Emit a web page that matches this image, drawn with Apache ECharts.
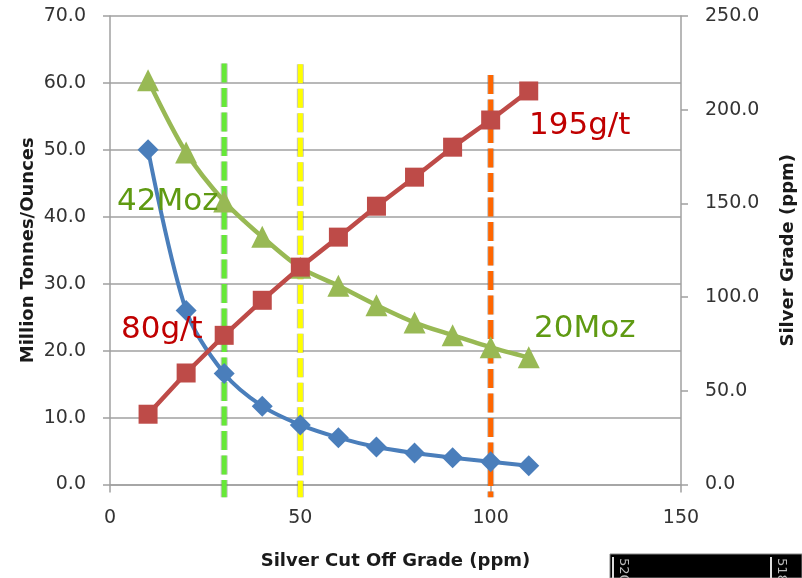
<!DOCTYPE html>
<html>
<head>
<meta charset="utf-8">
<script src="https://cdn.jsdelivr.net/npm/echarts@6/dist/echarts.min.js"></script>
<style>
html,body{margin:0;padding:0;background:#fff;overflow:hidden;width:802px;height:578px;}
#c{width:802px;height:578px;display:block;}
</style>
</head>
<body>
<div id="c"></div>
<script>
// ---- data ----
const cutOffGrades = [10, 20, 30, 40, 50, 60, 70, 80, 90, 100, 110];
const tonnes = [50.0, 26.0, 16.6, 11.7, 8.9, 7.0, 5.6, 4.7, 4.0, 3.4, 2.8];
const ounces = [60.4, 49.6, 42.3, 37.0, 32.4, 29.7, 26.8, 24.2, 22.3, 20.5, 19.0];
const grade = [37.5, 59.5, 79.6, 98.3, 116.0, 132.0, 148.5, 164.0, 180.0, 194.5, 210.0];
const cutoffLines = [30, 50, 100];
const cutoffTop = [62.9, 62.8, 61.2];
const cutoffBottom = [-1.9, -1.9, -1.9];
const cutoffColors = ['#66e838', '#ffff00', '#ff6600'];
const leftTicks = [0, 70, 10];
const rightTicks = [0, 250, 50];
const xTicks = [0, 150, 50];

const FONT = 'DejaVu Sans';
const chart = echarts.init(document.getElementById('c'), null, {renderer: 'canvas', width: 802, height: 578});

const xy = (ys) => cutOffGrades.map((x, i) => [x, ys[i]]);

const option = {
  backgroundColor: '#fff',
  animation: false,
  textStyle: {fontFamily: FONT},
  grid: {left: 110, right: 121, top: 16, bottom: 93.5, containLabel: false, outerBoundsMode: 'none'},
  xAxis: {
    type: 'value', min: xTicks[0], max: xTicks[1], interval: xTicks[2],
    name: 'Silver Cut Off Grade (ppm)', nameLocation: 'middle', nameGap: 68, nameMoveOverlap: false,
    nameTextStyle: {fontFamily: FONT, fontWeight: 'bold', fontSize: 18, color: '#1a1a1a'},
    axisLine: {show: true, lineStyle: {color: '#a0a0a0', width: 1.5}},
    axisTick: {show: true, length: 8, lineStyle: {color: '#a0a0a0', width: 1.5}},
    axisLabel: {fontFamily: FONT, fontSize: 19, color: '#333', margin: 24},
    splitLine: {show: false}
  },
  yAxis: [{
    type: 'value', min: leftTicks[0], max: leftTicks[1], interval: leftTicks[2],
    name: 'Million Tonnes/Ounces', nameLocation: 'middle', nameGap: 73, nameMoveOverlap: false,
    nameTextStyle: {fontFamily: FONT, fontWeight: 'bold', fontSize: 18, color: '#1a1a1a'},
    axisLine: {show: true, lineStyle: {color: '#a0a0a0', width: 1.5}},
    axisTick: {show: true, length: 7, lineStyle: {color: '#a0a0a0', width: 1.5}},
    axisLabel: {fontFamily: FONT, fontSize: 19, color: '#333', margin: 24,
      formatter: v => v.toFixed(1)},
    splitLine: {show: true, lineStyle: {color: '#a0a0a0', width: 1.5}}
  }, {
    type: 'value', min: rightTicks[0], max: rightTicks[1], interval: rightTicks[2],
    position: 'right',
    name: 'Silver Grade (ppm)', nameLocation: 'middle', nameGap: 98, nameRotate: 90, nameMoveOverlap: false,
    nameTextStyle: {fontFamily: FONT, fontWeight: 'bold', fontSize: 18, color: '#1a1a1a'},
    axisLine: {show: true, lineStyle: {color: '#a0a0a0', width: 1.5}},
    axisTick: {show: true, length: 7, lineStyle: {color: '#a0a0a0', width: 1.5}},
    axisLabel: {fontFamily: FONT, fontSize: 19, color: '#333', margin: 24,
      formatter: v => v.toFixed(1)},
    splitLine: {show: false}
  }],
  series: [{
    type: 'custom',
    z: 1,
    clip: false,
    silent: true,
    encode: {x: 0, y: 1},
    data: cutoffLines.map((g, i) => [g, cutoffTop[i], cutoffBottom[i]]),
    renderItem: function (params, api) {
      const top = api.coord([api.value(0), api.value(1)]);
      const bot = api.coord([api.value(0), api.value(2)]);
      const shape = {x1: top[0], y1: top[1], x2: bot[0], y2: bot[1]};
      const dash = [19, 5.5];
      return {type: 'group', children: [
        {type: 'line', shape: shape, style: {stroke: 'rgba(110,110,110,0.4)', lineWidth: 7, lineDash: dash, lineCap: 'butt'}},
        {type: 'line', shape: shape, style: {stroke: cutoffColors[params.dataIndex], lineWidth: 5, lineDash: dash, lineCap: 'butt'}}
      ]};
    }
  }, {
    name: 'Tonnes', type: 'line', yAxisIndex: 0, z: 3,
    data: xy(tonnes), smooth: 0.3,
    symbol: 'diamond', symbolSize: 21,
    lineStyle: {color: '#4a7ebb', width: 4},
    itemStyle: {color: '#4a7ebb'}
  }, {
    name: 'Ounces', type: 'line', yAxisIndex: 0, z: 3,
    data: xy(ounces), smooth: 0.3,
    symbol: 'triangle', symbolSize: 22,
    lineStyle: {color: '#98b954', width: 4.5},
    itemStyle: {color: '#98b954'}
  }, {
    name: 'Grade', type: 'line', yAxisIndex: 1, z: 4,
    data: xy(grade),
    symbol: 'rect', symbolSize: 19,
    lineStyle: {color: '#be4b48', width: 4.5},
    itemStyle: {color: '#be4b48'}
  }],
  graphic: [
    {type: 'text', x: 117, y: 202, z: 10, style: {text: '42Moz', fill: '#5f9a12', font: '31px "DejaVu Sans"', verticalAlign: 'middle', align: 'left'}},
    {type: 'text', x: 121, y: 330, z: 10, style: {text: '80g/t', fill: '#c00000', font: '31px "DejaVu Sans"', verticalAlign: 'middle', align: 'left'}},
    {type: 'text', x: 529, y: 126, z: 10, style: {text: '195g/t', fill: '#c00000', font: '31px "DejaVu Sans"', verticalAlign: 'middle', align: 'left'}},
    {type: 'text', x: 534, y: 329, z: 10, style: {text: '20Moz', fill: '#5f9a12', font: '31px "DejaVu Sans"', verticalAlign: 'middle', align: 'left'}},
    {type: 'rect', z: 10, shape: {x: 610, y: 554, width: 192, height: 24}, style: {fill: '#000', stroke: '#888', lineWidth: 1}},
    {type: 'rect', z: 11, shape: {x: 612, y: 557, width: 2, height: 21}, style: {fill: '#ddd'}},
    {type: 'rect', z: 11, shape: {x: 770, y: 557, width: 2, height: 21}, style: {fill: '#ddd'}},
    {type: 'text', z: 11, x: 617, y: 558, rotation: -Math.PI / 2, style: {text: '520', fill: '#bbb', font: '13px "DejaVu Sans"', align: 'left', verticalAlign: 'bottom'}},
    {type: 'text', z: 11, x: 775, y: 558, rotation: -Math.PI / 2, style: {text: '518', fill: '#bbb', font: '13px "DejaVu Sans"', align: 'left', verticalAlign: 'bottom'}}
  ]
};
chart.setOption(option);
</script>
</body>
</html>
